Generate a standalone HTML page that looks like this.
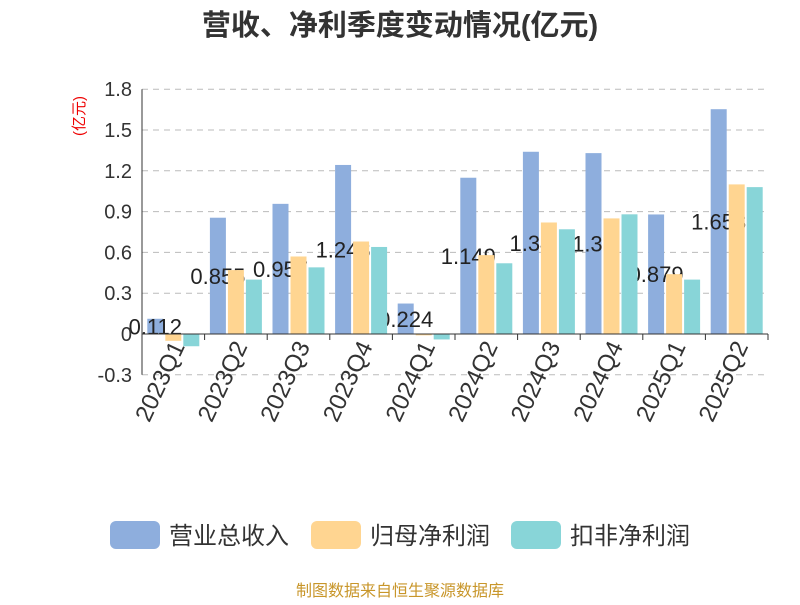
<!DOCTYPE html>
<html><head><meta charset="utf-8"><style>
body{margin:0;background:#fff;font-family:"Liberation Sans","Noto Sans CJK SC",sans-serif}
</style></head><body>
<svg width="800" height="600" xmlns="http://www.w3.org/2000/svg" font-family="Liberation Sans, Noto Sans CJK SC, sans-serif">
<text x="400" y="35" text-anchor="middle" font-size="29" font-weight="bold" fill="#333">营收、净利季度变动情况(亿元)</text>
<text transform="translate(84,116) rotate(-90)" text-anchor="middle" font-size="15" fill="#e00">(亿元)</text>
<g id="grid"></g><g id="bars"></g><g id="axes"></g>
<g font-size="24" fill="#333">
<rect x="110" y="521" width="50" height="28" rx="6" fill="#8eaedd"/><text x="169" y="544">营业总收入</text>
<rect x="311" y="521" width="50" height="28" rx="6" fill="#ffd591"/><text x="370" y="544">归母净利润</text>
<rect x="511" y="521" width="50" height="28" rx="6" fill="#88d5d8"/><text x="570" y="544">扣非净利润</text>
</g>
<text x="400" y="596" text-anchor="middle" font-size="16" fill="#c8962a">制图数据来自恒生聚源数据库</text>
</svg>
<script>
const categories=["2023Q1","2023Q2","2023Q3","2023Q4","2024Q1","2024Q2","2024Q3","2024Q4","2025Q1","2025Q2"];
const revenue=[0.112,0.855,0.957,1.243,0.224,1.149,1.34,1.33,0.879,1.653];
const revenueLabels=["0.112","0.855","0.957","1.243","0.224","1.149","1.34","1.33","0.879","1.653"];
const netProfit=[-0.05,0.47,0.57,0.68,-0.01,0.58,0.82,0.85,0.44,1.10];
const deductedProfit=[-0.09,0.40,0.49,0.64,-0.04,0.52,0.77,0.88,0.40,1.08];
const yTicks=[-0.3,0,0.3,0.6,0.9,1.2,1.5,1.8];
const yTickLabels=["-0.3","0","0.3","0.6","0.9","1.2","1.5","1.8"];
const NS="http://www.w3.org/2000/svg";
const x0=142,x1=768,y0=334,pxPer=244.8/1.8;
const y=v=>y0-v*pxPer;
const band=(x1-x0)/categories.length;
const xc=i=>x0+band*(i+0.5);
function mk(tag,attrs,parent){const e=document.createElementNS(NS,tag);for(const k in attrs)e.setAttribute(k,attrs[k]);parent.appendChild(e);return e;}
const grid=document.getElementById('grid'),bars=document.getElementById('bars'),axes=document.getElementById('axes');
yTicks.forEach((t,i)=>{
 if(t!==0){const l=mk('line',{x1:x0,x2:x1,y1:y(t),y2:y(t),stroke:'#bbb','stroke-dasharray':'6,5'},grid);
 
 }
 const tx=mk('text',{x:x0-10,y:y(t)+7,'text-anchor':'end','font-size':20,fill:'#333'},axes);
 tx.textContent=yTickLabels[i];
 
 
});
const ax=mk('line',{x1:x0,x2:x0,y1:y(1.8),y2:y(-0.3),stroke:'#333'},axes);


const xa=mk('line',{x1:x0,x2:x1,y1:y0,y2:y0,stroke:'#333'},axes);


const bw=16,gap=2;
const series=[[revenue,'#8eaedd','bar-revenue'],[netProfit,'#ffd591','bar-net-profit'],[deductedProfit,'#88d5d8','bar-deducted-profit']];
series.forEach((s,si)=>{
 s[0].forEach((v,i)=>{
  const bx=xc(i)+(si-1)*(bw+gap)-bw/2;
  const r=mk('rect',{x:bx,y:Math.min(y(v),y0),width:bw,height:Math.abs(y(v)-y0),fill:s[1]},bars);
  
  
  if(si===0){
   const t=mk('text',{x:bx+bw/2,y:(y(v)+y0)/2+8,'text-anchor':'middle','font-size':22,fill:'#222'},bars);
   t.textContent=revenueLabels[i];
   
   
  }
 });
});
categories.forEach((c,i)=>{
 const tk=mk('line',{x1:x0+band*(i+1),x2:x0+band*(i+1),y1:y0,y2:y0+6,stroke:'#333'},axes);
 
 
 const t=mk('text',{transform:`translate(${xc(i)+12},${y0+12}) rotate(-65)`,'text-anchor':'end','font-size':24,fill:'#333'},axes);
 t.textContent=c;
 
 
});
</script>
</body></html>
